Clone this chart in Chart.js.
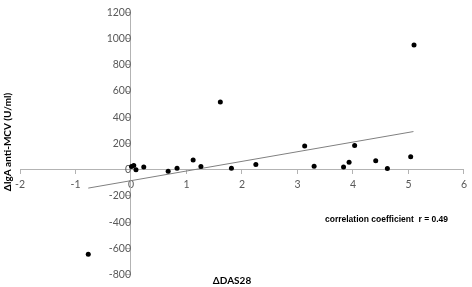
<!DOCTYPE html>
<html>
<head>
<meta charset="utf-8">
<script src="https://cdn.jsdelivr.net/npm/chart.js@4.4.1/dist/chart.umd.min.js"></script>
<style>
  html, body { margin: 0; padding: 0; background: #fff; }
  #wrap { position: relative; width: 472px; height: 287px; }
</style>
</head>
<body>
<div id="wrap"><canvas id="scatter_chart" width="472" height="287"></canvas></div>
<script>
// values
const dasChange = [0.01, 0.05, 0.09, 0.23, 0.67, 0.83, 1.12, 1.26, 1.61, 1.81, 2.25, 3.13, 3.30, 3.83, 3.93, 4.03, 4.41, 4.62, 5.04, 5.10, -0.77];
const igaChange = [25, 32, 0, 20, -12, 12, 74, 25, 517, 12, 40, 180, 27, 20, 57, 185, 69, 10, 99, 950, -644];

// regression line end points
const trendX = [-0.77, 5.09];
const trendY = [-140, 291];

const xTitle = 'ΔDAS28';
const yTitle = 'ΔIgA anti-MCV (U/ml)';
const noteText = 'correlation coefficient  r = 0.49';

const axisGrey = '#b3b3b3';
const labelGrey = '#595959';

// axis titles + note drawn on top of the chart
const textPlugin = {
  id: 'texts',
  afterDraw(chart) {
    const ctx = chart.ctx;
    ctx.save();
    ctx.fillStyle = '#000';
    ctx.textAlign = 'center';
    ctx.textBaseline = 'middle';
    ctx.font = 'bold 10px Lato';
    ctx.fillText(xTitle, 232, 281);

    ctx.save();
    ctx.translate(8, 142);
    ctx.rotate(-Math.PI / 2);
    ctx.fillText(yTitle, 0, 0);
    ctx.restore();

    ctx.font = 'bold 8.5px "Liberation Sans"';
    ctx.textAlign = 'left';
    ctx.fillText(noteText, 325, 220);
    ctx.restore();
  }
};

const points = dasChange.map((x, i) => ({ x: x, y: igaChange[i] }));
const trend = trendX.map((x, i) => ({ x: x, y: trendY[i] }));

const ctx = document.getElementById('scatter_chart').getContext('2d');
const chartInstance = new Chart(ctx, {
  type: 'scatter',
  data: {
    datasets: [
      {
        label: 'data',
        data: points,
        backgroundColor: '#000',
        borderColor: '#000',
        pointRadius: 2.5,
        pointBorderWidth: 0
      },
      {
        type: 'line',
        label: 'trend',
        data: trend,
        borderColor: '#808080',
        borderWidth: 1,
        pointRadius: 0,
        fill: false
      }
    ]
  },
  options: {
    responsive: false,
    animation: false,
    layout: { padding: { left: 20, right: 4, top: 5, bottom: 11 } },
    plugins: {
      legend: { display: false },
      tooltip: { enabled: false }
    },
    scales: {
      x: {
        type: 'linear',
        position: { y: 0 },
        min: -2, max: 6,
        ticks: { stepSize: 1, color: labelGrey, font: { family: 'Lato', size: 10.5 }, padding: 5, maxRotation: 0,
                 callback: v => String(v) },
        grid: { drawOnChartArea: false, drawTicks: true, tickLength: 4, color: axisGrey },
        border: { color: axisGrey }
      },
      y: {
        type: 'linear',
        position: { x: 0 },
        min: -800, max: 1200,
        ticks: { stepSize: 200, color: labelGrey, font: { family: 'Lato', size: 10.5 }, padding: 6,
                 callback: v => String(v) },
        grid: { drawOnChartArea: false, drawTicks: true, tickLength: 4, color: axisGrey },
        border: { color: axisGrey }
      }
    }
  },
  plugins: [textPlugin]
});
</script>
</body>
</html>
